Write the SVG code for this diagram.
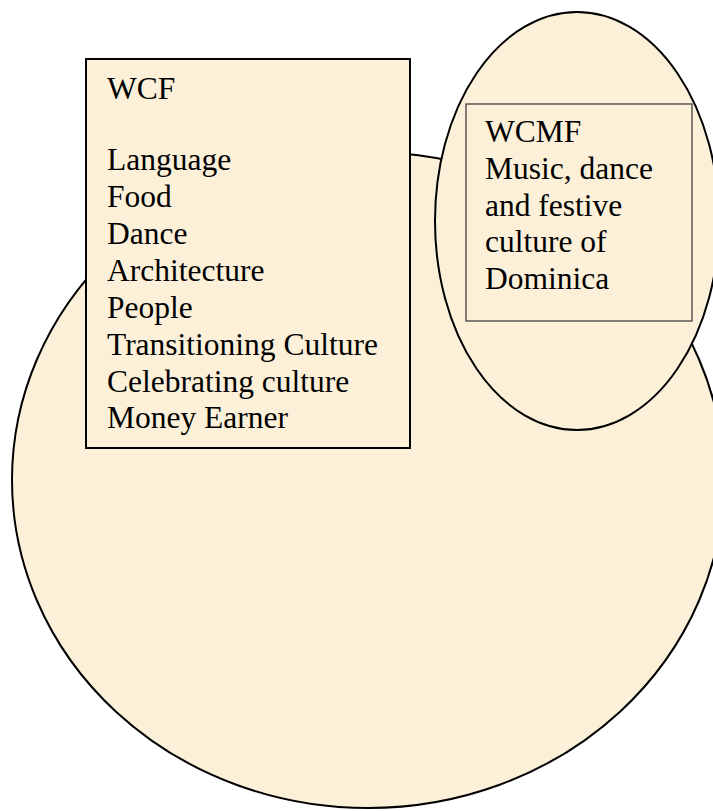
<svg xmlns="http://www.w3.org/2000/svg" width="713" height="811" viewBox="0 0 713 811">
<defs>
<style>
.shape{fill:#FCF0D9;stroke:#000;stroke-width:2}
.inner{fill:#FCF0D9;stroke:#333;stroke-width:1.2}
.t{font-family:"Liberation Serif","Times New Roman",serif;font-size:31.5px;fill:#000}
</style>
</defs>
<rect width="713" height="811" fill="#fff"/>
<g id="big-circle">
<ellipse class="shape" cx="368" cy="480" rx="356" ry="328"/>
</g>
<g id="wcf">
<rect class="shape" x="86" y="59" width="324" height="389"/>
<text class="t" x="107" y="99">WCF</text>
<text class="t" x="107" y="170">Language</text>
<text class="t" x="107" y="207">Food</text>
<text class="t" x="107" y="244">Dance</text>
<text class="t" x="107" y="281">Architecture</text>
<text class="t" x="107" y="318">People</text>
<text class="t" x="107" y="355">Transitioning Culture</text>
<text class="t" x="107" y="392">Celebrating culture</text>
<text class="t" x="107" y="428">Money Earner</text>
</g>
<g id="wcmf-ellipse">
<ellipse class="shape" cx="577" cy="221" rx="142" ry="209"/>
</g>
<g id="wcmf">
<rect class="inner" x="466" y="104" width="226" height="217"/>
<text class="t" x="485" y="142">WCMF</text>
<text class="t" x="485" y="179">Music, dance</text>
<text class="t" x="485" y="216">and festive</text>
<text class="t" x="485" y="252">culture of</text>
<text class="t" x="485" y="289">Dominica</text>
</g>
<g id="connectors"></g>
</svg>
